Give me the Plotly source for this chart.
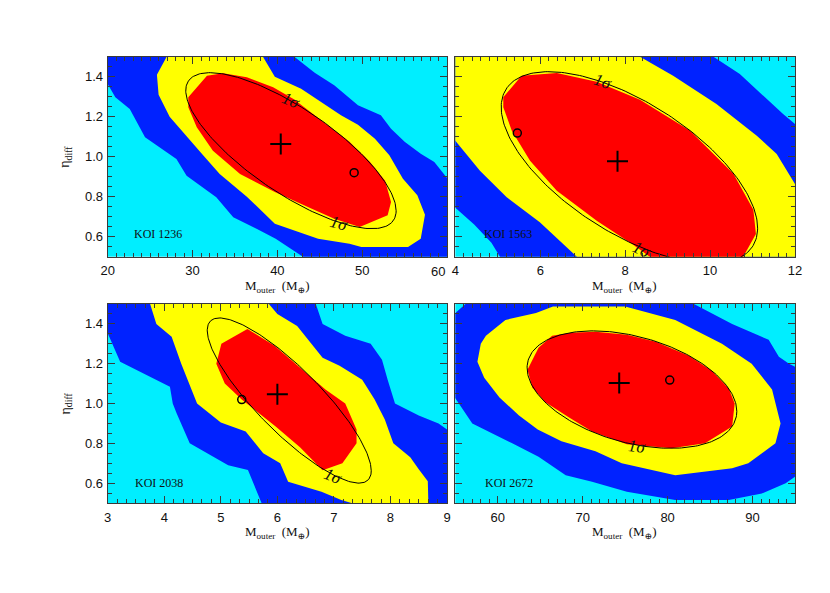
import numpy as np
import plotly.graph_objects as go

# Confidence-region colours: 1 sigma, 2 sigma, 3 sigma, outside
RED = "#ff0000"
YELLOW = "#ffff00"
BLUE = "#0022ff"
CYAN = "#00eeff"
INK = "#111111"
FRAME = "#3a3a3a"

SERIF = "Liberation Serif, DejaVu Serif, serif"
SANS = "Liberation Sans, Arial, sans-serif"

KOI_NAMES = ["KOI 1236", "KOI 1563", "KOI 2038", "KOI 2672"]
X_RANGES = [[20, 60], [4, 12], [3, 9], [55, 95]]
Y_RANGE = [0.5, 1.5]

# --- contour region outlines (points past the frame get clipped) ---
koi1236_blue_x = [19, 19, 20.0, 20.9, 22.6, 24.4, 28.1, 29.3, 32.8, 34.8, 37.6, 39.8, 43.0, 43.3,
                  62, 62, 60.07, 58.5, 56.9, 55.0, 53.4, 52.2, 49.5, 46.7, 44.4, 42.0, 41.5]
koi1236_blue_y = [1.6, 1.37, 1.363, 1.297, 1.238, 1.097, 0.988, 0.905, 0.797, 0.697, 0.638, 0.59, 0.5, 0.45,
                  0.45, 0.88, 0.89, 0.974, 1.015, 1.074, 1.14, 1.207, 1.257, 1.357, 1.42, 1.5, 1.6]
koi1236_yellow_x = [27.3, 26.95, 25.8, 26.0, 27.3, 29.3, 31.3, 33.2, 36.4, 39.7, 42.4, 44.8, 48.5, 49.9,
                    55.4, 56.9, 57.4, 56.5, 54.8, 53.2, 51.5, 49.5, 47.5, 45.2, 42.8, 39.7, 38.3, 38.0]
koi1236_yellow_y = [1.6, 1.5, 1.41, 1.31, 1.2, 1.1, 1.005, 0.913, 0.8, 0.665, 0.625, 0.59, 0.565, 0.548,
                    0.548, 0.59, 0.71, 0.807, 0.89, 1.007, 1.09, 1.16, 1.207, 1.274, 1.34, 1.4, 1.5, 1.6]
koi1236_red_x = [29.5, 31.7, 33.6, 36.4, 39.5, 41.9, 45.4, 48.5, 50.9, 52.7, 53.4, 53.0, 49.7, 46.7,
                 43.6, 39.7, 35.6, 32.4, 30.5, 29.5]
koi1236_red_y = [1.297, 1.405, 1.417, 1.397, 1.347, 1.288, 1.175, 1.075, 0.975, 0.88, 0.774, 0.707, 0.649, 0.69,
                 0.749, 0.823, 0.913, 1.03, 1.147, 1.247]

koi1563_blue_x = [10.0, 10.08, 10.7, 11.33, 11.72, 12.0, 12.5, 12.5, 5.1, 5.05, 4.85, 4.45, 4.0, 3.5, 3.5]
koi1563_blue_y = [1.6, 1.5, 1.413, 1.288, 1.213, 1.163, 1.1, 0.4, 0.4, 0.5, 0.57, 0.66, 0.745, 0.8, 1.6]
koi1563_yellow_x = [8.3, 8.35, 9.13, 10.15, 11.1, 11.57, 12.0, 12.5, 12.5, 6.75, 6.86, 5.99, 5.21, 4.58,
                    4.0, 3.5, 3.5]
koi1563_yellow_y = [1.6, 1.5, 1.405, 1.263, 1.105, 1.013, 0.863, 0.8, 0.4, 0.4, 0.5, 0.672, 0.797, 0.93,
                    1.08, 1.15, 1.6]
koi1563_red_x = [5.13, 5.56, 6.39, 7.33, 8.35, 9.53, 10.55, 11.02, 11.08, 10.65, 8.9, 8.19, 7.33, 6.39,
                 5.76, 5.33, 5.13]
koi1563_red_y = [1.297, 1.405, 1.418, 1.375, 1.285, 1.13, 0.915, 0.735, 0.613, 0.45, 0.45, 0.56, 0.68, 0.83,
                 0.98, 1.13, 1.247]

koi2038_blue_x = [2.5, 2.5, 3.0, 3.22, 4.1, 4.15, 4.22, 4.45, 5.13, 5.48, 5.72, 5.75, 9.5, 9.5, 9.0, 8.85,
                  8.5, 8.08, 7.95, 7.85, 7.65, 7.2, 6.8, 6.68, 6.65]
koi2038_blue_y = [1.6, 1.36, 1.353, 1.21, 1.084, 1.0, 0.95, 0.8, 0.69, 0.666, 0.5, 0.4, 0.4, 0.86, 0.87, 0.9,
                  0.94, 1.0, 1.12, 1.22, 1.3, 1.34, 1.4, 1.5, 1.6]
koi2038_yellow_x = [3.75, 3.75, 3.86, 4.13, 4.3, 4.58, 5.0, 5.44, 5.75, 6.05, 6.19, 6.78, 7.13, 7.31, 7.35,
                    8.7, 8.67, 8.66, 8.5, 8.35, 8.05, 7.9, 7.72, 7.5, 7.1, 6.8, 6.35, 6.0, 5.85, 5.83]
koi2038_yellow_y = [1.6, 1.5, 1.4, 1.336, 1.2, 1.0, 0.905, 0.86, 0.75, 0.7, 0.607, 0.557, 0.515, 0.5, 0.4,
                    0.4, 0.5, 0.61, 0.67, 0.73, 0.8, 0.92, 1.02, 1.12, 1.19, 1.23, 1.39, 1.45, 1.5, 1.6]
koi2038_red_x = [5.01, 5.47, 5.95, 6.4, 6.85, 7.2, 7.4, 7.4, 7.15, 6.8, 6.4, 5.97, 5.72, 5.37, 5.07, 4.92]
koi2038_red_y = [1.3, 1.375, 1.29, 1.18, 1.07, 1.0, 0.87, 0.8, 0.7, 0.665, 0.78, 0.885, 0.94, 1.02, 1.1, 1.2]

koi2672_blue_x = [54.5, 55.0, 56.2, 56.5, 83.0, 83.1, 87.6, 91.9, 93.1, 94.3, 95.0, 95.5, 95.5, 95.0, 93.9,
                  91.1, 87.2, 80.9, 75.2, 71.1, 68.0, 64.8, 61.7, 57.0, 55.0, 54.5]
koi2672_blue_y = [1.45, 1.455, 1.5, 1.6, 1.6, 1.5, 1.4, 1.32, 1.235, 1.2, 1.185, 1.18, 0.63, 0.632, 0.6,
                  0.548, 0.515, 0.515, 0.557, 0.607, 0.64, 0.733, 0.8, 0.9, 1.026, 1.03]
koi2672_yellow_x = [57.6, 58.0, 58.6, 60.9, 64.5, 66.5, 75.0, 80.9, 86.4, 89.9, 92.3, 93.3, 92.7, 89.5, 87.6,
                    80.9, 74.6, 71.5, 67.5, 64.7, 62.5, 60.2, 58.4]
koi2672_yellow_y = [1.21, 1.3, 1.34, 1.42, 1.455, 1.488, 1.488, 1.42, 1.3, 1.2, 1.07, 0.9, 0.8, 0.7, 0.675,
                    0.64, 0.7, 0.76, 0.81, 0.87, 0.94, 1.03, 1.13]
koi2672_red_x = [63.5, 64.8, 66.4, 68.6, 71.5, 75.2, 78.6, 82.5, 85.2, 87.2, 87.9, 87.6, 84.4, 80.5, 75.2,
                 71.1, 68.4, 65.6, 64.06]
koi2672_red_y = [1.17, 1.28, 1.34, 1.355, 1.36, 1.345, 1.31, 1.24, 1.165, 1.075, 1.0, 0.885, 0.8, 0.775, 0.795,
                 0.86, 0.93, 1.006, 1.08]

# --- 1 sigma ellipse: centre, half-extent in x and y, correlation ---
ellipse_cx = [41.6, 8.1, 6.21, 75.8]
ellipse_cy = [1.03, 0.945, 1.015, 1.07]
ellipse_sx = [12.4, 3.02, 1.45, 12.35]
ellipse_sy = [0.39, 0.48, 0.415, 0.295]
ellipse_rho = [-0.77, -0.63, -0.85, -0.37]

# best fit (+) and circle markers
best_x = [40.4, 7.82, 6.0, 74.3]
best_y = [1.063, 0.977, 1.047, 1.103]
circle_x = [49.05, 5.46, 5.37, 80.25]
circle_y = [0.92, 1.118, 1.02, 1.118]

# "1σ" contour labels: panel index, x, y, angle
sigma_label_panel = [0, 0, 1, 1, 2, 3]
sigma_label_x = [41.6, 47.3, 7.47, 8.39, 6.99, 76.4]
sigma_label_y = [1.28, 0.665, 1.377, 0.538, 0.632, 0.783]
sigma_label_angle = [22, 14, 18, 24, 22, 6]

# KOI name position (left edge of text)
name_x = [22.9, 4.62, 3.45, 58.2]
name_y = [0.612, 0.613, 0.602, 0.602]

BLUE_X = [koi1236_blue_x, koi1563_blue_x, koi2038_blue_x, koi2672_blue_x]
BLUE_Y = [koi1236_blue_y, koi1563_blue_y, koi2038_blue_y, koi2672_blue_y]
YELLOW_X = [koi1236_yellow_x, koi1563_yellow_x, koi2038_yellow_x, koi2672_yellow_x]
YELLOW_Y = [koi1236_yellow_y, koi1563_yellow_y, koi2038_yellow_y, koi2672_yellow_y]
RED_X = [koi1236_red_x, koi1563_red_x, koi2038_red_x, koi2672_red_x]
RED_Y = [koi1236_red_y, koi1563_red_y, koi2038_red_y, koi2672_red_y]

# panel frames in paper fractions; the page body adds an 8px offset,
# so the figure is 822x585 and everything is placed relative to that
DOMAIN_X = [[0.1213, 0.5341], [0.5442, 0.9574], [0.1213, 0.5341], [0.5442, 0.9574]]
DOMAIN_Y = [[0.5749, 0.9168], [0.5749, 0.9168], [0.1538, 0.4940], [0.1538, 0.4940]]


def sigma_ellipse(cx, cy, sx, sy, rho, n=240):
    t = np.linspace(0, 2 * np.pi, n)
    x = cx + sx * np.cos(t)
    y = cy + sy * (rho * np.cos(t) + np.sqrt(1 - rho ** 2) * np.sin(t))
    return x, y


def region(x, y, color, i):
    return go.Scatter(
        x=x, y=y, fill="toself", fillcolor=color, mode="lines",
        line=dict(width=0, color=color), hoverinfo="skip", showlegend=False,
        xaxis=f"x{i + 1}", yaxis=f"y{i + 1}",
    )


fig = go.Figure()
for i in range(4):
    fig.add_trace(region(BLUE_X[i], BLUE_Y[i], BLUE, i))
    fig.add_trace(region(YELLOW_X[i], YELLOW_Y[i], YELLOW, i))
    fig.add_trace(region(RED_X[i], RED_Y[i], RED, i))
    ex, ey = sigma_ellipse(ellipse_cx[i], ellipse_cy[i], ellipse_sx[i], ellipse_sy[i], ellipse_rho[i])
    fig.add_trace(go.Scatter(
        x=ex, y=ey, mode="lines", line=dict(color="black", width=1),
        hoverinfo="skip", showlegend=False, xaxis=f"x{i + 1}", yaxis=f"y{i + 1}",
    ))
    fig.add_trace(go.Scatter(
        x=[best_x[i]], y=[best_y[i]], mode="markers",
        marker=dict(symbol="cross-thin", size=15, line=dict(color="black", width=2)),
        showlegend=False, xaxis=f"x{i + 1}", yaxis=f"y{i + 1}",
    ))
    fig.add_trace(go.Scatter(
        x=[circle_x[i]], y=[circle_y[i]], mode="markers",
        marker=dict(symbol="circle-open", size=8, color="black", line=dict(color="black", width=1.5)),
        showlegend=False, xaxis=f"x{i + 1}", yaxis=f"y{i + 1}",
    ))

annotations = []
for p, x, y, a in zip(sigma_label_panel, sigma_label_x, sigma_label_y, sigma_label_angle):
    annotations.append(dict(
        x=x, y=y, xref=f"x{p + 1}", yref=f"y{p + 1}", text="<i>1σ</i>", showarrow=False,
        xanchor="center", yanchor="middle",
        textangle=a, font=dict(family=SERIF, size=17, color=INK),
    ))
for i in range(4):
    annotations.append(dict(
        x=name_x[i], y=name_y[i], xref=f"x{i + 1}", yref=f"y{i + 1}", text=KOI_NAMES[i],
        showarrow=False, xanchor="left", yanchor="middle",
        font=dict(family=SERIF, size=12, color=INK),
    ))

# the last label of the top-left axis is right-justified to the frame so it
# clears the "4" of the neighbouring panel
annotations.append(dict(
    x=X_RANGES[0][1], y=0.5504, xref="x1", yref="paper", text="60", showarrow=False,
    xanchor="right", yanchor="middle", font=dict(family=SANS, size=13, color=INK),
))

# axis titles (explicit anchors: paper annotations otherwise auto-anchor by position)
for cx in (0.3277, 0.7506):
    for ty in (0.5236, 0.1031):
        annotations.append(dict(
            x=cx, y=ty, xref="paper", yref="paper", showarrow=False,
            xanchor="center", yanchor="middle",
            text="M<sub>outer</sub>  (M<sub>⊕</sub>)",
            font=dict(family=SERIF, size=13, color=INK),
        ))
for ty in (0.7458, 0.3239):
    annotations.append(dict(
        x=0.0706, y=ty, xref="paper", yref="paper", showarrow=False, textangle=-90,
        xanchor="center", yanchor="middle",
        text="η<sub>diff</sub>", font=dict(family=SERIF, size=14, color=INK),
    ))

axis_common = dict(
    ticks="inside", ticklen=7, tickwidth=1, tickcolor=FRAME,
    showline=True, linecolor=FRAME, linewidth=1, mirror="allticks",
    showgrid=False, zeroline=False, automargin=False,
    tickfont=dict(family=SANS, size=13, color=INK),
)

x_ticks = [
    dict(tickmode="array", tickvals=[20, 30, 40, 50, 60],
         ticktext=["20", "30", "40", "50", ""], minor_dtick=1, minor_tick0=0),
    dict(tick0=4, dtick=2, minor_dtick=0.2, minor_tick0=0),
    dict(tick0=3, dtick=1, minor_dtick=1 / 6, minor_tick0=3),
    dict(tick0=60, dtick=10, minor_dtick=1, minor_tick0=0),
]

layout_axes = {}
for i in range(4):
    xt = x_ticks[i]
    minor = dict(ticks="inside", ticklen=4, tickcolor=FRAME, showgrid=False,
                 dtick=xt.pop("minor_dtick"), tick0=xt.pop("minor_tick0"))
    layout_axes[f"xaxis{i + 1}"] = dict(
        axis_common, domain=DOMAIN_X[i], range=X_RANGES[i], anchor=f"y{i + 1}",
        minor=minor, ticklabelstandoff=2, **xt,
    )
    layout_axes[f"yaxis{i + 1}"] = dict(
        axis_common, domain=DOMAIN_Y[i], range=Y_RANGE, anchor=f"x{i + 1}",
        tick0=0.2, dtick=0.2, tickformat=".1f", showticklabels=(i % 2 == 0),
        ticklabelstandoff=1,
        minor=dict(ticks="inside", ticklen=4, tickcolor=FRAME, showgrid=False, dtick=0.05, tick0=0),
    )

fig.update_layout(
    template="none",
    width=822, height=585,
    margin=dict(l=0, r=0, t=0, b=0, autoexpand=False),
    paper_bgcolor="white", plot_bgcolor=CYAN,
    showlegend=False, annotations=annotations,
    **layout_axes,
)

fig.write_html("out.html")
